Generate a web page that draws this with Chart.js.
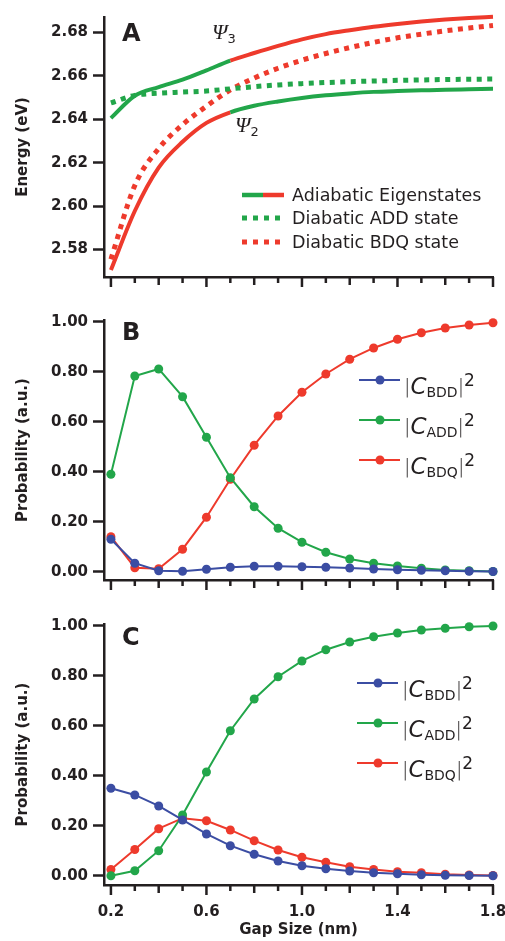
<!DOCTYPE html>
<html>
<head>
<meta charset="utf-8">
<script src="https://cdn.jsdelivr.net/npm/chart.js@4.4.0/dist/chart.umd.min.js"></script>
<style>
  body { margin: 0; background: #fff; width: 505px; height: 941px; position: relative; overflow: hidden;
         font-family: "DejaVu Sans", sans-serif; color: #231f20; }
  .panel { position: absolute; left: 0; width: 505px; }
  .txt { position: absolute; white-space: nowrap; line-height: 1; }
  .letter { font-weight: bold; font-size: 24px; }
  .psi { font-family: "Liberation Serif", serif; font-style: italic; font-size: 22px; }
  .psi sub { font-family: "DejaVu Sans", sans-serif; font-style: normal; font-size: 13px; vertical-align: -4px; }
  .leg { position: absolute; height: 22px; white-space: nowrap; }
  .leg svg { position: absolute; left: 0; top: 0; }
  .leg .lab { position: absolute; top: 0; line-height: 22px; }
  .legA { font-size: 17.5px; }
  .legB { font-size: 23px; }
  .legB i { font-style: italic; }
  .legB sub { font-size: 14px; vertical-align: -3px; }
  .legB sup { font-size: 17px; vertical-align: 8px; }
  .bar { font-size: 19px; font-weight: 300; vertical-align: 1px; }
</style>
</head>
<body>
<canvas id="chartA" class="panel" style="top:0" width="505" height="300"></canvas>
<canvas id="chartB" class="panel" style="top:300px" width="505" height="300"></canvas>
<canvas id="chartC" class="panel" style="top:600px" width="505" height="341"></canvas>

<div class="txt letter" style="left:122px;top:21px">A</div>
<div class="txt letter" style="left:122px;top:320px">B</div>
<div class="txt letter" style="left:122px;top:625px">C</div>
<div class="txt psi" style="left:212px;top:21px">Ψ<sub>3</sub></div>
<div class="txt psi" style="left:235px;top:114px">Ψ<sub>2</sub></div>
<div id="legendA"></div>
<div id="legendB"></div>
<div id="legendC"></div>

<script>
// gap sizes (nm) shared by every panel
const gapSize = [0.2, 0.3, 0.4, 0.5, 0.6, 0.7, 0.8, 0.9, 1.0, 1.1, 1.2, 1.3, 1.4, 1.5, 1.6, 1.7, 1.8];
const gapLabels = [0.2, 0.6, 1.0, 1.4, 1.8];

// panel A: energies (eV)
const psi3Energy = [2.6405, 2.6508, 2.6548, 2.6582, 2.6625, 2.6670, 2.6705, 2.6738, 2.6768, 2.6792, 2.6810, 2.6826, 2.6839, 2.6850, 2.6859, 2.6866, 2.6872];
const psi2Energy = [2.5705, 2.5977, 2.6177, 2.6296, 2.6383, 2.6432, 2.6462, 2.6482, 2.6498, 2.6510, 2.6519, 2.6526, 2.6530, 2.6533, 2.6536, 2.6538, 2.6540];
const addEnergy = [2.6475, 2.6510, 2.6520, 2.6525, 2.6530, 2.6540, 2.6550, 2.6558, 2.6564, 2.6569, 2.6573, 2.6576, 2.6579, 2.6581, 2.6583, 2.6584, 2.6585];
const bdqEnergy = [2.5755, 2.6095, 2.6265, 2.6375, 2.6460, 2.6535, 2.6590, 2.6635, 2.6672, 2.6703, 2.6730, 2.6754, 2.6775, 2.6792, 2.6807, 2.6820, 2.6832];
const energyTicks = [2.58, 2.60, 2.62, 2.64, 2.66, 2.68];
const crossGap = 0.7;

// panel B: probabilities
const bddProbB = [0.13, 0.034, 0.004, 0.002, 0.010, 0.018, 0.022, 0.022, 0.020, 0.018, 0.015, 0.011, 0.008, 0.006, 0.004, 0.002, 0.001];
const addProbB = [0.39, 0.783, 0.811, 0.700, 0.538, 0.376, 0.260, 0.174, 0.118, 0.078, 0.051, 0.034, 0.023, 0.014, 0.007, 0.004, 0.001];
const bdqProbB = [0.14, 0.016, 0.012, 0.090, 0.218, 0.370, 0.506, 0.623, 0.718, 0.791, 0.850, 0.895, 0.930, 0.956, 0.975, 0.987, 0.996];

// panel C: probabilities
const bddProbC = [0.350, 0.323, 0.279, 0.223, 0.167, 0.120, 0.086, 0.059, 0.040, 0.028, 0.019, 0.012, 0.008, 0.004, 0.002, 0.001, 0.000];
const addProbC = [0.000, 0.020, 0.100, 0.243, 0.415, 0.580, 0.707, 0.796, 0.859, 0.904, 0.935, 0.956, 0.971, 0.983, 0.990, 0.996, 0.999];
const bdqProbC = [0.025, 0.105, 0.188, 0.230, 0.220, 0.183, 0.140, 0.103, 0.074, 0.054, 0.036, 0.025, 0.016, 0.012, 0.006, 0.003, 0.001];
const probTicks = [0, 0.2, 0.4, 0.6, 0.8, 1.0];

const green = '#22a64a';
const red = '#ee3a2c';
const blue = '#3b4da3';
const ink = '#231f20';

const tickFont = { family: 'DejaVu Sans', size: 15, weight: 'bold' };
const titleFont = { family: 'DejaVu Sans', size: 15, weight: 'bold' };

function pts(ys) {
    return gapSize.map((x, i) => ({ x: x, y: ys[i] }));
}

// x tick marks: long at the labelled values, short elsewhere
const xTickMarks = {
    id: 'xTickMarks',
    afterDraw(chart) {
        const sx = chart.scales.x;
        const bottom = chart.chartArea.bottom;
        const ctx = chart.ctx;
        ctx.save();
        ctx.strokeStyle = ink;
        ctx.lineWidth = 2.5;
        gapSize.forEach((v, i) => {
            const px = sx.getPixelForValue(v);
            const len = gapLabels.includes(v) ? 10 : (i % 2 === 0 ? 8 : 6);
            ctx.beginPath();
            ctx.moveTo(px, bottom);
            ctx.lineTo(px, bottom + len);
            ctx.stroke();
        });
        ctx.restore();
    }
};

function makeChart(id, datasets, o) {
    return new Chart(document.getElementById(id), {
        type: 'line',
        data: { datasets: datasets },
        plugins: [xTickMarks],
        options: {
            responsive: false,
            animation: false,
            devicePixelRatio: 1,
            layout: { padding: { top: o.padTop, right: 12, left: 0, bottom: 0 } },
            plugins: { legend: { display: false }, tooltip: { enabled: false } },
            scales: {
                x: {
                    type: 'linear', min: 0.171, max: 1.8,
                    afterBuildTicks: s => { s.ticks = gapLabels.map(v => ({ value: v })); },
                    afterFit: s => { s.height = o.xHeight; s.paddingLeft = 0; s.paddingRight = 0; },
                    ticks: { display: o.xLabels, font: tickFont, color: ink, padding: 10,
                             maxRotation: 0, autoSkip: false, callback: v => v.toFixed(1) },
                    grid: { display: false },
                    border: { display: true, width: 2.5, color: ink },
                    title: { display: o.xLabels, text: 'Gap Size (nm)', font: titleFont, color: ink,
                             padding: { top: 0, bottom: 2 } }
                },
                y: {
                    min: o.yMin, max: o.yMax,
                    afterBuildTicks: s => { s.ticks = o.yTicks.map(v => ({ value: v })); },
                    afterFit: s => { s.width = 104; },
                    ticks: { font: tickFont, color: ink, padding: 5, callback: v => v.toFixed(2) },
                    grid: { drawOnChartArea: false, drawTicks: true, tickLength: 11, tickWidth: 2.5, tickColor: ink },
                    border: { display: true, width: 2.5, color: ink },
                    title: { display: true, text: o.yTitle, font: titleFont, color: ink,
                             padding: { top: 14, bottom: 0 } }
                }
            }
        }
    });
}

function adiabatic(ys, before, after) {
    return {
        data: pts(ys), borderWidth: 4, pointRadius: 0, clip: false,
        cubicInterpolationMode: 'monotone', borderColor: before,
        segment: { borderColor: c => (c.p0.parsed.x < crossGap - 1e-6 ? before : after) }
    };
}

function diabatic(ys, color) {
    return {
        data: pts(ys), borderWidth: 5, pointRadius: 0, clip: false, borderDash: [5, 5.5],
        borderCapStyle: 'butt', cubicInterpolationMode: 'monotone', borderColor: color
    };
}

function probLine(ys, color) {
    return {
        data: pts(ys), borderColor: color, borderWidth: 2, tension: 0, clip: false,
        pointRadius: 4.5, pointBorderWidth: 0, pointBackgroundColor: color
    };
}

makeChart('chartA', [
    adiabatic(psi3Energy, green, red),
    adiabatic(psi2Energy, red, green),
    diabatic(addEnergy, green),
    diabatic(bdqEnergy, red)
], { padTop: 17, xHeight: 23, xLabels: false, yMin: 2.5673, yMax: 2.6871, yTicks: energyTicks, yTitle: 'Energy (eV)' });

makeChart('chartB', [
    probLine(bddProbB, blue),
    probLine(addProbB, green),
    probLine(bdqProbB, red)
], { padTop: 20, xHeight: 20, xLabels: false, yMin: -0.0332, yMax: 1.0068, yTicks: probTicks, yTitle: 'Probability (a.u.)' });

makeChart('chartC', [
    probLine(bddProbC, blue),
    probLine(addProbC, green),
    probLine(bdqProbC, red)
], { padTop: 24, xHeight: 56, xLabels: true, yMin: -0.0372, yMax: 1.0068, yTicks: probTicks, yTitle: 'Probability (a.u.)' });

// legends drawn as html so the sub/superscripts stay real text
function legendRow(parent, left, top, swatch, labelHtml, cls, textLeft, textTop) {
    const row = document.createElement('div');
    row.className = 'leg ' + cls;
    row.style.left = left + 'px';
    row.style.top = top + 'px';
    row.innerHTML = swatch + '<span class="lab" style="left:' + textLeft + 'px;top:' + textTop + 'px">' + labelHtml + '</span>';
    parent.appendChild(row);
}

function solidSwatch(c1, c2) {
    return '<svg width="42" height="22"><line x1="0" y1="11" x2="21" y2="11" stroke="' + c1 + '" stroke-width="4.5"/>' +
           '<line x1="21" y1="11" x2="42" y2="11" stroke="' + c2 + '" stroke-width="4.5"/></svg>';
}
function dotSwatch(c) {
    return '<svg width="42" height="22"><line x1="0" y1="11" x2="42" y2="11" stroke="' + c +
           '" stroke-width="5" stroke-dasharray="5 6"/></svg>';
}
function markerSwatch(c) {
    return '<svg width="42" height="22"><line x1="0" y1="11" x2="41" y2="11" stroke="' + c + '" stroke-width="2"/>' +
           '<circle cx="21" cy="11" r="4.5" fill="' + c + '"/></svg>';
}
function coefLabel(sub) {
    return '<span class="bar">|</span><i>C</i><sub>' + sub + '</sub><span class="bar">|</span><sup>2</sup>';
}

const legA = document.getElementById('legendA');
legendRow(legA, 242, 184, solidSwatch(green, red), 'Adiabatic Eigenstates', 'legA', 50, 0);
legendRow(legA, 242, 207, dotSwatch(green), 'Diabatic ADD state', 'legA', 50, 0);
legendRow(legA, 242, 231, dotSwatch(red), 'Diabatic BDQ state', 'legA', 50, 0);

const legB = document.getElementById('legendB');
[[blue, 'BDD', 380], [green, 'ADD', 420], [red, 'BDQ', 460]].forEach(e => {
    legendRow(legB, 359, e[2] - 11, markerSwatch(e[0]), coefLabel(e[1]), 'legB', 45, 0);
});

const legC = document.getElementById('legendC');
[[blue, 'BDD', 683], [green, 'ADD', 723], [red, 'BDQ', 763]].forEach(e => {
    legendRow(legC, 357, e[2] - 11, markerSwatch(e[0]), coefLabel(e[1]), 'legB', 45, 0);
});
</script>
</body>
</html>
